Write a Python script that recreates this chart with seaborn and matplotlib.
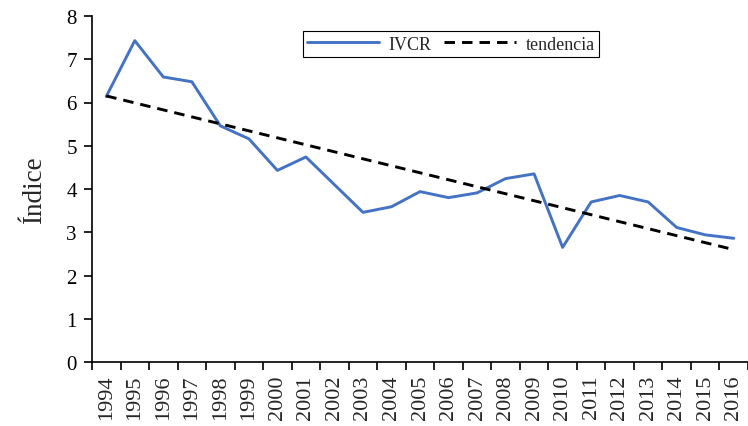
import pandas as pd
import seaborn as sns
import matplotlib.pyplot as plt
import numpy as np
from matplotlib.lines import Line2D

# Data
years = [1994, 1995, 1996, 1997, 1998, 1999, 2000, 2001, 2002, 2003, 2004, 2005,
         2006, 2007, 2008, 2009, 2010, 2011, 2012, 2013, 2014, 2015, 2016]
ivcr = [6.14, 7.43, 6.59, 6.48, 5.46, 5.16, 4.43, 4.74, 4.10, 3.46, 3.59, 3.94,
        3.80, 3.91, 4.24, 4.35, 2.65, 3.70, 3.85, 3.70, 3.11, 2.94, 2.86]

df = pd.DataFrame({'pos': np.arange(len(years)), 'year': years, 'IVCR': ivcr})

# Linear trend (as Excel's linear trendline)
slope, intercept = np.polyfit(df['pos'], df['IVCR'], 1)
df['tendencia'] = intercept + slope * df['pos']

sns.set_style('ticks')
plt.rcParams['font.family'] = ['Liberation Serif', 'DejaVu Serif']

fig = plt.figure(figsize=(7.48, 4.27), dpi=100)
ax = fig.add_axes([92 / 748, 64 / 427, 656 / 748, 346 / 427])

dash = (0, (3.6, 2.4))
sns.lineplot(data=df, x='pos', y='IVCR', ax=ax, color='#4472C4', linewidth=2.1)
sns.lineplot(data=df, x='pos', y='tendencia', ax=ax, color='black', linewidth=2.1,
             linestyle=dash)

ax.set_xlim(-0.5, len(years) - 0.5)
ax.set_ylim(0, 8)
ax.set_yticks(range(0, 9))
ax.tick_params(axis='y', labelsize=15, length=6, width=1.2, direction='out',
               colors='black', pad=5)

ax.set_xticks(df['pos'])
ax.set_xticklabels(years, rotation=90)
ax.set_xticks(np.arange(-0.5, len(years)), minor=True)
ax.tick_params(axis='x', which='major', length=0, labelsize=16, pad=9)
ax.tick_params(axis='x', which='minor', length=6, width=1.2, direction='out', colors='black')

ax.set_xlabel('')
ax.set_ylabel('Índice', fontsize=19.5, labelpad=14)

sns.despine(ax=ax)
for s in ['left', 'bottom']:
    ax.spines[s].set_linewidth(1.2)
    ax.spines[s].set_color('black')

handles = [Line2D([], [], color='#4472C4', linewidth=2.1),
           Line2D([], [], color='black', linewidth=2.1, linestyle=dash)]
leg = ax.legend(handles, ['IVCR', 'tendencia'], ncol=2, loc='center',
                bbox_to_anchor=(0.547, 0.919), fontsize=13, frameon=True,
                fancybox=False, framealpha=1, edgecolor='black',
                handlelength=4, columnspacing=0.7, handletextpad=0.5,
                borderpad=0.25)
leg.get_frame().set_linewidth(0.8)

fig.savefig('out.png', dpi=100)
